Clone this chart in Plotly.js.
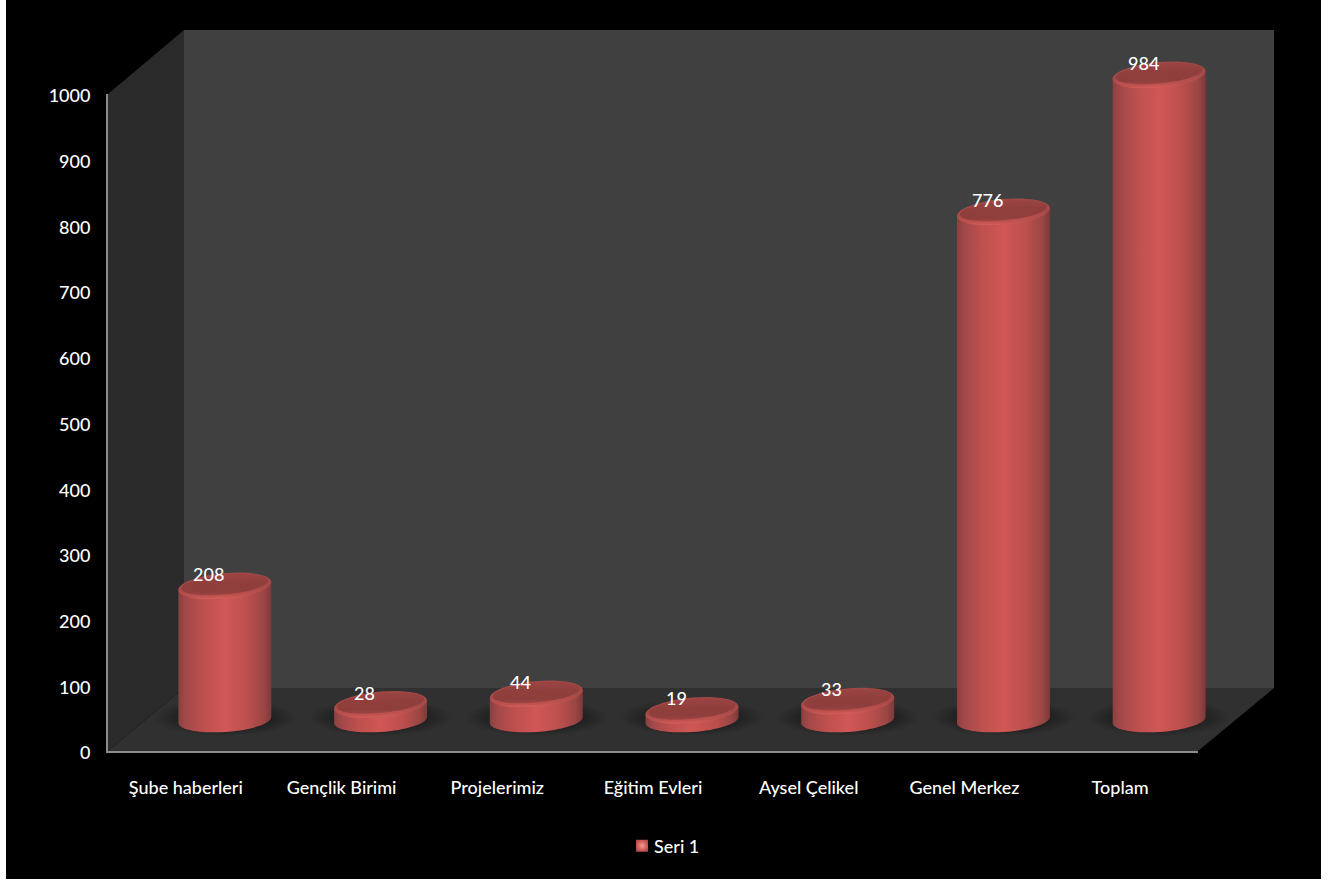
<!DOCTYPE html>
<html>
<head>
<meta charset="utf-8">
<script src="https://cdn.plot.ly/plotly-3.0.1.min.js"></script>
<style>html,body{margin:0;padding:0;background:#fff}#chart{width:1334px;height:881px}</style>
</head>
<body>
<div id="chart"></div>
<script>
const categories = ["Şube haberleri", "Gençlik Birimi", "Projelerimiz", "Eğitim Evleri", "Aysel Çelikel", "Genel Merkez", "Toplam"];
const seriesName = "Seri 1";
const values = [208, 28, 44, 19, 33, 776, 984];
const yTicks = [0, 100, 200, 300, 400, 500, 600, 700, 800, 900, 1000];

const W = 1334, H = 881;
const px = x => x / W;
const py = y => 1 - y / H;
const poly = pts => pts.map((p, i) => (i ? 'L' : 'M') + px(p[0]) + ',' + py(p[1])).join(' ') + ' Z';
const FONT = 'Lato, Carlito, sans-serif';
const K = 0.5523;
const RX = 46.5, TOP_RY = 13, TOP_SKEW = 4, BASE_RY = 12, BASE_SKEW = 3, BASE_LIFT = 3;
const PX_PER_UNIT = 0.6585, Y2_ZERO = 723, Y2_MIN = -60, Y2_MAX = 1040;

function capPath(rx, ry, s, dy) {
  const p = (x, y) => x + ',' + (y + dy);
  return 'M' + p(rx, s) +
    ' C' + p(rx, s + K * ry) + ' ' + p(K * rx, ry + K * s) + ' ' + p(0, ry) +
    ' C' + p(-K * rx, ry - K * s) + ' ' + p(-rx, -s + K * ry) + ' ' + p(-rx, -s) +
    ' C' + p(-rx, -s - K * ry) + ' ' + p(-K * rx, -ry - K * s) + ' ' + p(0, -ry) +
    ' C' + p(K * rx, -ry + K * s) + ' ' + p(rx, s - K * ry) + ' ' + p(rx, s) + ' Z';
}

const wallShapes = [
  {type:'rect', xref:'paper', yref:'paper', x0:px(6), x1:px(1321), y0:py(879), y1:py(0), fillcolor:'#000', line:{width:0}, layer:'below'},
  {type:'path', xref:'paper', yref:'paper', path:poly([[184,30],[1274,30],[1274,688],[184,688]]), fillcolor:'#404040', line:{width:0}, layer:'below'},
  {type:'path', xref:'paper', yref:'paper', path:poly([[108,94],[184,30],[184,688],[108,751]]), fillcolor:'#2a2a2a', line:{width:0}, layer:'below'},
  {type:'path', xref:'paper', yref:'paper', path:poly([[108,751],[1198,751],[1274,688],[184,688]]), fillcolor:'#303030', line:{width:0}, layer:'below'}
];
const shadowStart = wallShapes.length;
const shadowShapes = categories.map(c => ({
  type:'circle', xref:'x2', yref:'y2', xsizemode:'pixel', ysizemode:'pixel',
  xanchor:c, yanchor:0, x0:-72, x1:72, y0:-13, y1:24,
  fillcolor:'rgba(0,0,0,0.3)', line:{width:0}, layer:'below'
}));
const capStart = shadowStart + shadowShapes.length;
const capShapes = categories.map((c, i) => ({
  type:'path', xref:'x2', yref:'y2', xsizemode:'pixel', ysizemode:'pixel',
  xanchor:c, yanchor:values[i], path:capPath(RX, TOP_RY, TOP_SKEW, 0),
  fillcolor:'#b04c4a', line:{width:0}, layer:'above'
}));
const innerStart = capStart + capShapes.length;
const innerShapes = categories.map((c, i) => ({
  type:'path', xref:'x2', yref:'y2', xsizemode:'pixel', ysizemode:'pixel',
  xanchor:c, yanchor:values[i], path:capPath(RX - 3, TOP_RY - 3, TOP_SKEW, 1.5),
  fillcolor:'#8f3f3d', line:{width:0}, layer:'above'
}));

const labels = categories.map((c, i) => ({
  xref:'x2', yref:'y2', x:c, y:values[i], text:String(values[i]),
  showarrow:false, xshift:-16, yshift:12, xanchor:'center', yanchor:'middle',
  font:{family:FONT, size:18, color:'#fff', weight:500}
}));

const traces = [
  {type:'scatter', mode:'none', x:categories, y:values, xaxis:'x', yaxis:'y', showlegend:false, hoverinfo:'skip'},
  {type:'bar', name:seriesName, x:categories, y:values, xaxis:'x2', yaxis:'y2', width:0.597,
   marker:{color:'#c4504e', line:{width:0}}, showlegend:true}
];

const layout = {
  width:W, height:H, margin:{l:0,r:0,t:0,b:0,pad:0},
  paper_bgcolor:'#fff', plot_bgcolor:'rgba(0,0,0,0)',
  font:{family:FONT, size:18, color:'#fff'},
  barmode:'overlay',
  xaxis:{type:'category', categoryorder:'array', categoryarray:categories, range:[-0.5,6.5],
    domain:[px(108), px(1198)], anchor:'y', showgrid:false, zeroline:false,
    showline:true, linecolor:'#8c8c8c', linewidth:2, ticks:'outside', ticklen:19, tickcolor:'rgba(0,0,0,0)',
    tickfont:{family:FONT, size:18, color:'#fff', weight:500}, fixedrange:true},
  yaxis:{range:[0,1000], tickmode:'array', tickvals:yTicks, ticktext:yTicks.map(String),
    domain:[py(751), py(94)], anchor:'x', showgrid:false, zeroline:false,
    showline:true, linecolor:'#8c8c8c', linewidth:2, ticks:'outside', ticklen:12, tickcolor:'rgba(0,0,0,0)',
    tickfont:{family:FONT, size:18, color:'#fff', weight:500}, fixedrange:true},
  xaxis2:{type:'category', categoryorder:'array', categoryarray:categories, range:[-0.5,6.5],
    domain:[px(147), px(1237)], anchor:'y2', visible:false, fixedrange:true},
  yaxis2:{range:[Y2_MIN,Y2_MAX], domain:[py(Y2_ZERO - Y2_MIN * PX_PER_UNIT), py(Y2_ZERO - Y2_MAX * PX_PER_UNIT)],
    anchor:'x2', visible:false, fixedrange:true},
  shapes:wallShapes.concat(shadowShapes, capShapes, innerShapes),
  annotations:labels,
  legend:{x:px(622), y:py(846), xanchor:'left', yanchor:'middle', orientation:'h', bgcolor:'rgba(0,0,0,0)',
    font:{family:FONT, size:18, color:'#fff', weight:500}, itemclick:false, itemdoubleclick:false}
};

function addGradients(svg) {
  const NS = 'http://www.w3.org/2000/svg';
  const defs = svg.querySelector('defs') || svg.insertBefore(document.createElementNS(NS,'defs'), svg.firstChild);
  function grad(tag, id, attrs, stops) {
    const g = document.createElementNS(NS, tag);
    g.setAttribute('id', id);
    Object.keys(attrs).forEach(k => g.setAttribute(k, attrs[k]));
    stops.forEach(s => {
      const st = document.createElementNS(NS, 'stop');
      st.setAttribute('offset', s[0]);
      st.setAttribute('stop-color', s[1]);
      if (s[2] !== undefined) st.setAttribute('stop-opacity', s[2]);
      g.appendChild(st);
    });
    defs.appendChild(g);
  }
  grad('linearGradient', 'cylBody', {x1:0,x2:1,y1:0,y2:0}, [
    [0,'#8a403e'],[0.08,'#a2484a'],[0.25,'#bc4f4d'],[0.5,'#d15755'],[0.75,'#bb4f4d'],[0.92,'#9a4644'],[1,'#7c3a38']]);
  grad('linearGradient', 'cylRim', {x1:0.45,x2:0.55,y1:0,y2:1}, [
    [0,'#a04846'],[0.55,'#a64a48'],[0.85,'#bf524f'],[0.95,'#d25c58'],[1,'#b04c4a']]);
  grad('linearGradient', 'cylTop', {x1:0.45,x2:0.55,y1:0,y2:1}, [
    [0,'#9c4543'],[0.4,'#913f3d'],[0.8,'#8e3e3c'],[1,'#a04644']]);
  grad('radialGradient', 'floorShadow', {cx:0.5,cy:0.5,r:0.5}, [
    [0,'#000',0.5],[0.6,'#000',0.35],[1,'#000',0]]);
  grad('radialGradient', 'legendSwatch', {cx:0.5,cy:0.5,r:0.6}, [
    [0,'#f09a96'],[0.6,'#d4605c'],[1,'#a84a48']]);
}

Plotly.newPlot('chart', traces, layout, {displayModeBar:false}).then(gd => {
  addGradients(gd.querySelector('svg.main-svg'));
  gd.querySelectorAll('.barlayer .bars .point path').forEach(path => {
    const b = path.getBBox();
    const L = b.x, R = b.x + b.width, cx = (L + R) / 2, rx = b.width / 2;
    const ty = b.y, cy = b.y + b.height - BASE_LIFT;
    const d = 'M' + L + ',' + (ty + TOP_SKEW) + ' L' + R + ',' + (ty - TOP_SKEW) +
      ' L' + R + ',' + (cy - BASE_SKEW) +
      ' C' + R + ',' + (cy - BASE_SKEW + K * BASE_RY) + ' ' + (cx + K * rx) + ',' + (cy + BASE_RY - K * BASE_SKEW) + ' ' + cx + ',' + (cy + BASE_RY) +
      ' C' + (cx - K * rx) + ',' + (cy + BASE_RY + K * BASE_SKEW) + ' ' + L + ',' + (cy + BASE_SKEW + K * BASE_RY) + ' ' + L + ',' + (cy + BASE_SKEW) + ' Z';
    path.setAttribute('d', d);
    path.style.setProperty('fill', 'url(#cylBody)');
  });
  const shapeAt = i => gd.querySelector('.shapelayer path[data-index="' + i + '"]');
  const paint = (list, start, id) => list.forEach((s, i) => {
    const p = shapeAt(start + i);
    if (p) { p.style.setProperty('fill', 'url(#' + id + ')'); p.style.setProperty('fill-opacity', '1'); }
  });
  paint(shadowShapes, shadowStart, 'floorShadow');
  paint(capShapes, capStart, 'cylRim');
  paint(innerShapes, innerStart, 'cylTop');
  const sw = gd.querySelector('.legendpoints path');
  if (sw) sw.style.setProperty('fill', 'url(#legendSwatch)');
  const lt = gd.querySelector('.legendtext');
  if (lt) lt.setAttribute('x', parseFloat(lt.getAttribute('x')) - 8);
  gd.querySelectorAll('.ytick text').forEach(t => t.setAttribute('dy', '2'));
});
</script>
</body>
</html>
